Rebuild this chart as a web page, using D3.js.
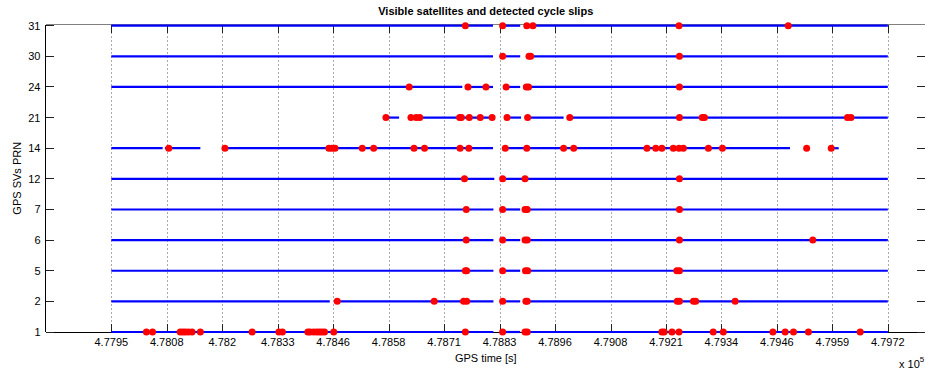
<!DOCTYPE html>
<html>
<head>
<meta charset="utf-8">
<script src="https://cdn.jsdelivr.net/npm/d3@7"></script>
<style>
  body { margin: 0; background: #fff; }
  svg { display: block; font-family: "Liberation Sans", Arial, sans-serif; }
</style>
</head>
<body>
<svg id="chart" width="925" height="372"></svg>
<script>

// Satellites shown on the y axis (bottom to top)
const prns = ["1", "2", "5", "6", "7", "12", "14", "21", "24", "30", "31"];

// X tick labels (x 10^5)
const tickLabels = ["4.7795", "4.7808", "4.782", "4.7833", "4.7846", "4.7858", "4.7871", "4.7883",
    "4.7896", "4.7908", "4.7921", "4.7934", "4.7946", "4.7959", "4.7972"];

// Visibility arcs: [prn, start, end] in GPS seconds
const arcs = [
    ["31", 477950, 478820], ["31", 478838, 478882], ["31", 478891, 479720],
    ["30", 477950, 478820], ["30", 478838, 478882], ["30", 478897, 479720],
    ["24", 477950, 478750], ["24", 478756, 478820], ["24", 478844, 478882], ["24", 478892, 479720],
    ["21", 478576, 478606], ["21", 478631, 478820], ["21", 478848, 478884], ["21", 478894, 478981], ["21", 478992, 479720],
    ["14", 477950, 478067], ["14", 478072, 478153], ["14", 478204, 478820], ["14", 478844, 479497],
    ["14", 479533, 479542], ["14", 479589, 479608],
    ["12", 477950, 478823], ["12", 478838, 479720],
    ["7", 477950, 478821], ["7", 478838, 478882], ["7", 478890, 479720],
    ["6", 477950, 478821], ["6", 478838, 478882], ["6", 478890, 479720],
    ["5", 477950, 478821], ["5", 478838, 478882], ["5", 478890, 479720],
    ["2", 477950, 478448], ["2", 478460, 478821], ["2", 478838, 478882], ["2", 478890, 479720],
    ["1", 477950, 478821], ["1", 478838, 478882], ["1", 478890, 479720]
];

// Detected cycle slips: [prn, time]
const slips = [
    ["31", 478757], ["31", 478842], ["31", 478897], ["31", 478911], ["31", 479244], ["31", 479493],
    ["30", 478842], ["30", 478902], ["30", 478906], ["30", 479245],
    ["24", 478629], ["24", 478763], ["24", 478804], ["24", 478850], ["24", 478896], ["24", 478901], ["24", 479245],
    ["21", 478576], ["21", 478633], ["21", 478645], ["21", 478653], ["21", 478744], ["21", 478748], ["21", 478766],
    ["21", 478791], ["21", 478818], ["21", 478852], ["21", 478899], ["21", 478995], ["21", 479245], ["21", 479297],
    ["21", 479302], ["21", 479628], ["21", 479636],
    ["14", 478081], ["14", 478209], ["14", 478446], ["14", 478453], ["14", 478460], ["14", 478522], ["14", 478548],
    ["14", 478640], ["14", 478664], ["14", 478745], ["14", 478765], ["14", 478848], ["14", 478897], ["14", 478981],
    ["14", 479004], ["14", 479171], ["14", 479191], ["14", 479205], ["14", 479231], ["14", 479244], ["14", 479254],
    ["14", 479311], ["14", 479343], ["14", 479535], ["14", 479591],
    ["12", 478755], ["12", 478842], ["12", 478893], ["12", 479245],
    ["7", 478759], ["7", 478842], ["7", 478893], ["7", 478898], ["7", 479245],
    ["6", 478759], ["6", 478842], ["6", 478893], ["6", 478898], ["6", 479245], ["6", 479549],
    ["5", 478757], ["5", 478760], ["5", 478842], ["5", 478894], ["5", 478899], ["5", 479239], ["5", 479245],
    ["2", 478465], ["2", 478686], ["2", 478753], ["2", 478760], ["2", 478842], ["2", 478895], ["2", 478898],
    ["2", 479240], ["2", 479245], ["2", 479277], ["2", 479282], ["2", 479372],
    ["1", 478030], ["1", 478044], ["1", 478107], ["1", 478113], ["1", 478119], ["1", 478126], ["1", 478134],
    ["1", 478153], ["1", 478271], ["1", 478332], ["1", 478340], ["1", 478398], ["1", 478403], ["1", 478411],
    ["1", 478418], ["1", 478424], ["1", 478430], ["1", 478436], ["1", 478457], ["1", 478757], ["1", 478842],
    ["1", 478893], ["1", 478898], ["1", 479205], ["1", 479210], ["1", 479228], ["1", 479244], ["1", 479322],
    ["1", 479345], ["1", 479458], ["1", 479486], ["1", 479505], ["1", 479539], ["1", 479657]
];

// Axes box (the top row sits just under the top edge)
const box = { left: 45.5, right: 926, top: 24.5, bottom: 332 };
const rowTop = 25.7;
const tFirst = 477950, tLast = 479720;

const svg = d3.select("#chart");

const x = d3.scaleLinear()
    .domain([477800, 479807])
    .range([box.left, box.right]);

const y = d3.scalePoint()
    .domain(prns)
    .range([box.bottom, rowTop]);

const tickValues = tickLabels.map((d, i) => tFirst + i * (tLast - tFirst) / (tickLabels.length - 1));
const px = d => Math.round(x(d)) + 0.5;

// Dotted vertical grid
svg.append("g")
    .selectAll("line")
    .data(tickValues)
    .join("line")
    .attr("x1", px)
    .attr("x2", px)
    .attr("y1", box.top)
    .attr("y2", box.bottom)
    .attr("stroke", "#555")
    .attr("stroke-dasharray", "1,3");

// Axes lines and ticks
const axes = svg.append("g").attr("shape-rendering", "crispEdges");
axes.append("line")
    .attr("x1", box.left).attr("x2", box.right).attr("y1", box.top).attr("y2", box.top)
    .attr("stroke", "#808080");
axes.append("line")
    .attr("x1", box.left).attr("x2", box.right).attr("y1", box.bottom).attr("y2", box.bottom)
    .attr("stroke", "#000");
axes.append("line")
    .attr("x1", box.left).attr("x2", box.left).attr("y1", box.top).attr("y2", box.bottom)
    .attr("stroke", "#000");

const tickLen = 8;
axes.selectAll(".xtb")
    .data(tickValues)
    .join("line")
    .attr("class", "xtb")
    .attr("x1", px)
    .attr("x2", px)
    .attr("y1", box.bottom)
    .attr("y2", box.bottom - tickLen)
    .attr("stroke", "#222");
axes.selectAll(".xtt")
    .data(tickValues)
    .join("line")
    .attr("class", "xtt")
    .attr("x1", px)
    .attr("x2", px)
    .attr("y1", box.top)
    .attr("y2", box.top + tickLen)
    .attr("stroke", "#222");
axes.selectAll(".ytl")
    .data(prns)
    .join("line")
    .attr("class", "ytl")
    .attr("x1", box.left)
    .attr("x2", box.left + tickLen)
    .attr("y1", d => y(d))
    .attr("y2", d => y(d))
    .attr("stroke", "#222");
axes.selectAll(".ytr")
    .data(prns.slice(0, -1))
    .join("line")
    .attr("class", "ytr")
    .attr("x1", box.right - tickLen - 1)
    .attr("x2", box.right)
    .attr("y1", d => y(d))
    .attr("y2", d => y(d))
    .attr("stroke", "#222");

// Visibility arcs
svg.append("g")
    .selectAll("line")
    .data(arcs)
    .join("line")
    .attr("x1", d => x(d[1]))
    .attr("x2", d => x(d[2]))
    .attr("y1", d => y(d[0]))
    .attr("y2", d => y(d[0]))
    .attr("stroke", "#0000ff")
    .attr("stroke-width", 2.2);

// Cycle slips
svg.append("g")
    .selectAll("circle")
    .data(slips)
    .join("circle")
    .attr("cx", d => x(d[1]))
    .attr("cy", d => y(d[0]))
    .attr("r", 3.5)
    .attr("fill", "#ff0000");

// Tick labels
svg.append("g")
    .selectAll("text")
    .data(tickValues)
    .join("text")
    .attr("x", d => x(d))
    .attr("y", box.bottom + 14)
    .attr("text-anchor", "middle")
    .attr("font-size", 11)
    .text((d, i) => tickLabels[i]);

svg.append("g")
    .selectAll("text")
    .data(prns)
    .join("text")
    .attr("x", box.left - 5)
    .attr("y", d => y(d) + 4)
    .attr("text-anchor", "end")
    .attr("font-size", 11)
    .text(d => d);

// Titles
svg.append("text")
    .attr("x", (box.left + box.right) / 2)
    .attr("y", 15)
    .attr("text-anchor", "middle")
    .attr("font-size", 11)
    .attr("font-weight", "bold")
    .text("Visible satellites and detected cycle slips");

svg.append("text")
    .attr("x", (box.left + box.right) / 2)
    .attr("y", 362)
    .attr("text-anchor", "middle")
    .attr("font-size", 11)
    .text("GPS time [s]");

svg.append("text")
    .attr("transform", `translate(21,${(box.top + box.bottom) / 2}) rotate(-90)`)
    .attr("text-anchor", "middle")
    .attr("font-size", 11)
    .text("GPS SVs PRN");

const expo = svg.append("text")
    .attr("x", 899)
    .attr("y", 368)
    .attr("font-size", 11)
    .text("x 10");
expo.append("tspan")
    .attr("dy", -6)
    .attr("font-size", 8)
    .text("5");

</script>
</body>
</html>
